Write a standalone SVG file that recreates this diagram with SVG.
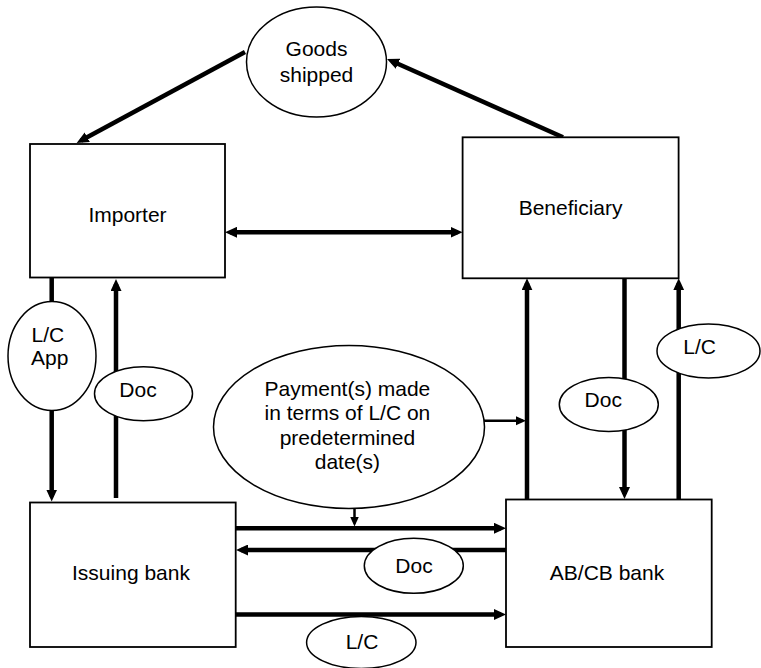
<svg xmlns="http://www.w3.org/2000/svg" width="761" height="668" viewBox="0 0 761 668">
  <defs>
    <style>
      .box { fill: #fff; stroke: #000; stroke-width: 1.8; }
      .oval { fill: #fff; stroke: #000; stroke-width: 1.5; }
      .flow { fill: none; stroke: #000; stroke-width: 4.5; marker-end: url(#head); }
      .flow2 { fill: none; stroke: #000; stroke-width: 4.5; marker-start: url(#head); marker-end: url(#head); }
      .thin { fill: none; stroke: #000; stroke-width: 2.5; marker-end: url(#headSmall); }
      text { font-family: "Liberation Sans", Arial, Helvetica, sans-serif; font-size: 21px; fill: #000; text-anchor: middle; }
    </style>
    <marker id="head" viewBox="0 0 12 11" markerUnits="userSpaceOnUse" markerWidth="12" markerHeight="11" refX="7" refY="5.5" orient="auto-start-reverse">
      <path d="M0,0 L12,5.5 L0,11 z" fill="#000"/>
    </marker>
    <marker id="headSmall" viewBox="0 0 10 10" markerUnits="userSpaceOnUse" markerWidth="10" markerHeight="10" refX="7" refY="5" orient="auto">
      <path d="M0,0.5 L10,5 L0,9.5 z" fill="#000"/>
    </marker>
  </defs>
  <rect width="761" height="668" fill="#fff"/>

  <!-- connectors -->
  <g id="connectors">
    <!-- goods shipment -->
    <line class="flow" x1="563" y1="137.3" x2="391.6" y2="61"/>
    <line class="flow" x1="245" y1="52" x2="81.1" y2="140.6"/>
    <!-- importer <-> beneficiary -->
    <line class="flow2" x1="230" y1="232.3" x2="457.6" y2="232.3"/>
    <!-- importer / issuing bank -->
    <line class="flow" x1="51.7" y1="277.5" x2="51.7" y2="496.5"/>
    <line class="flow" x1="116" y1="498" x2="116" y2="284"/>
    <!-- beneficiary / advising bank -->
    <line class="flow" x1="527" y1="499.5" x2="527" y2="283.3"/>
    <line class="flow" x1="624.5" y1="278.3" x2="624.5" y2="494"/>
    <line class="flow" x1="678.7" y1="499.5" x2="678.7" y2="283.3"/>
    <!-- issuing bank / advising bank -->
    <line class="flow" x1="235.7" y1="528.3" x2="501" y2="528.3"/>
    <line class="flow" x1="506" y1="550" x2="241" y2="550"/>
    <line class="flow" x1="235.7" y1="614.5" x2="501" y2="614.5"/>
    <!-- payment notes -->
    <line class="thin" x1="483.5" y1="420.7" x2="523" y2="420.7"/>
    <line class="thin" x1="354.5" y1="507" x2="354.5" y2="523.5"/>
  </g>

  <!-- nodes -->
  <g id="goods-shipped">
    <ellipse class="oval" cx="316.5" cy="62" rx="70" ry="55"/>
    <text x="316.5" y="56">Goods</text>
    <text x="316.5" y="81.7">shipped</text>
  </g>
  <g id="importer">
    <rect class="box" x="30" y="144" width="195" height="133.5"/>
    <text x="127.5" y="221.7">Importer</text>
  </g>
  <g id="beneficiary">
    <rect class="box" x="462.6" y="137.3" width="216" height="141"/>
    <text x="570.6" y="215">Beneficiary</text>
  </g>
  <g id="issuing-bank">
    <rect class="box" x="30" y="502.5" width="205.7" height="144.5"/>
    <text x="131" y="580">Issuing bank</text>
  </g>
  <g id="abcb-bank">
    <rect class="box" x="506" y="499.5" width="205.7" height="147.5"/>
    <text x="607" y="580">AB/CB bank</text>
  </g>
  <g id="lc-app">
    <ellipse class="oval" cx="52" cy="356" rx="44" ry="54.5"/>
    <text x="31.5" y="341.7" style="text-anchor:start">L/C</text>
    <text x="31" y="364.5" style="text-anchor:start">App</text>
  </g>
  <g id="doc-importer">
    <ellipse class="oval" cx="143.5" cy="393.7" rx="49" ry="27"/>
    <text x="138" y="396.7">Doc</text>
  </g>
  <g id="payment">
    <ellipse class="oval" cx="349" cy="427" rx="135.5" ry="81.5"/>
    <text x="347.4" y="396">Payment(s) made</text>
    <text x="347.4" y="420.3">in terms of L/C on</text>
    <text x="347.4" y="444.6">predetermined</text>
    <text x="347.4" y="469">date(s)</text>
  </g>
  <g id="doc-beneficiary">
    <ellipse class="oval" cx="608.8" cy="404.5" rx="49.5" ry="27"/>
    <text x="603.3" y="407.3">Doc</text>
  </g>
  <g id="lc-beneficiary">
    <ellipse class="oval" cx="708.5" cy="351" rx="51.5" ry="27"/>
    <text x="699.7" y="354">L/C</text>
  </g>
  <g id="doc-banks">
    <ellipse class="oval" cx="413.8" cy="565.8" rx="49.5" ry="27.5"/>
    <text x="414" y="573.3">Doc</text>
  </g>
  <g id="lc-banks">
    <ellipse class="oval" cx="361.3" cy="642.5" rx="54.7" ry="26"/>
    <text x="362" y="649.3">L/C</text>
  </g>
</svg>
